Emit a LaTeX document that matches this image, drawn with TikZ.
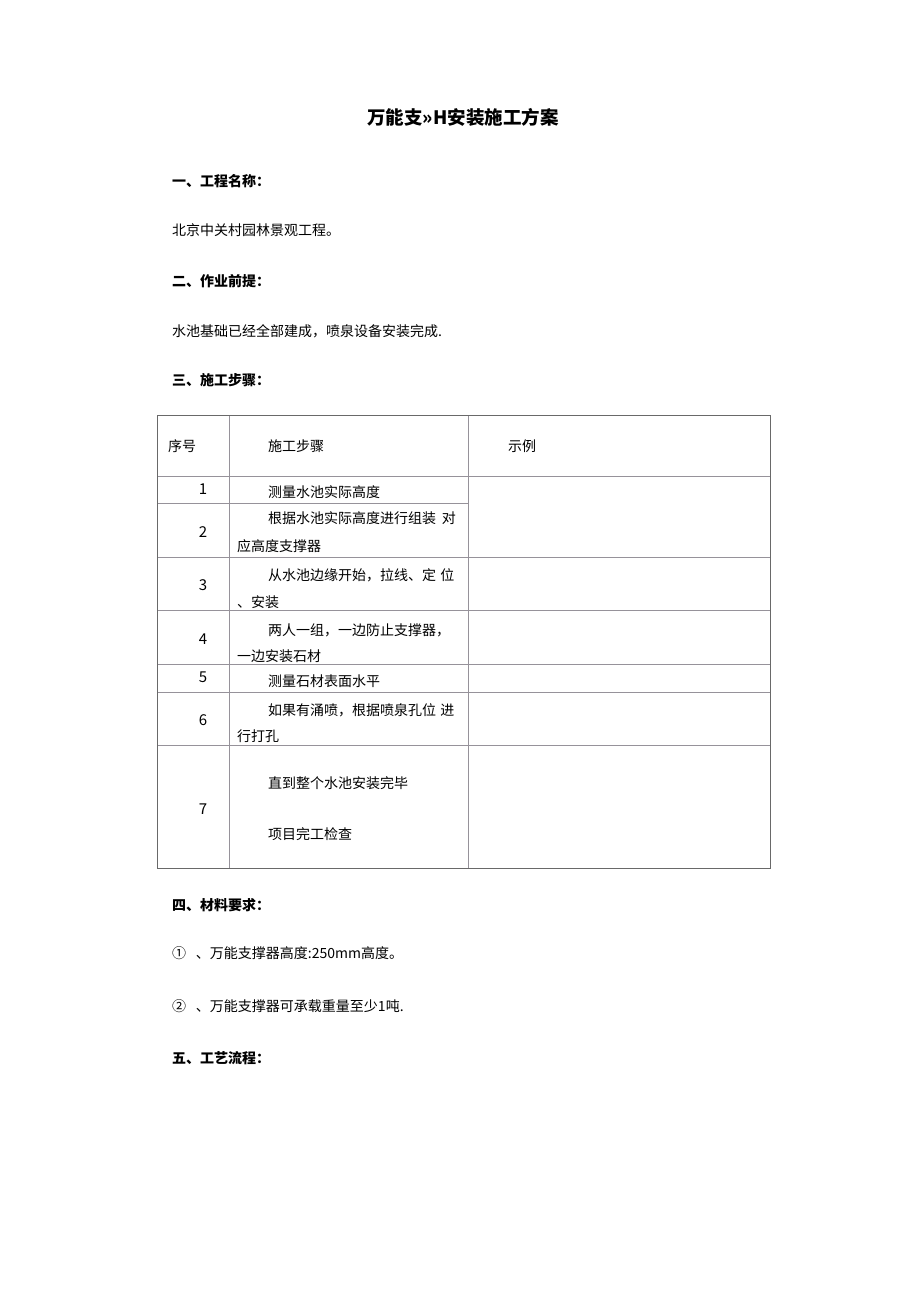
\documentclass[tikz,border=0pt]{standalone}
\usepackage{fontspec}
\setmainfont{Noto Sans CJK SC}
\definecolor{tablegray}{RGB}{150,146,154}
\definecolor{bordergray}{RGB}{105,105,105}
\begin{document}
\begin{tikzpicture}[x=1pt,y=-1pt,
  txt/.style={anchor=west,inner sep=0pt,yshift=-2pt,font=\fontsize{14}{16}\selectfont,text height=0.8em,text depth=0.04em},
  hd/.style={txt,font=\bfseries\fontsize{14}{16}\selectfont},
  num/.style={anchor=center,inner sep=0pt,yshift=-2pt,font=\fontsize{15}{17}\selectfont,text height=0.75em,text depth=0em},
  ttl/.style={anchor=center,inner sep=0pt,yshift=-2pt,font=\bfseries\fontsize{18.5}{20}\selectfont,text height=0.8em,text depth=0.04em},
  gridline/.style={draw=tablegray,line width=0.9pt},
  borderline/.style={draw=bordergray,line width=0.9pt}]
\fill[white] (0,0) rectangle (920,1302);
\useasboundingbox (0,0) rectangle (920,1302);

\node[ttl] (title) at (463,119) {万能支»H安装施工方案};
\node[hd] (h1) at (172,181) {一、工程名称：};
\node[txt] (t1) at (172,230) {北京中关村园林景观工程。};
\node[hd] (h2) at (172,281) {二、作业前提：};
\node[txt] (t2) at (172,331) {水池基础已经全部建成，喷泉设备安装完成.};
\node[hd] (h3) at (172,380) {三、施工步骤：};

% table grid
\coordinate (c0) at (157,415);
\coordinate (c1) at (770,868);
\draw[gridline] (229,415) -- (229,868);
\draw[gridline] (468,415) -- (468,868);
\foreach \yy in {476,557,610,664,692,745} {\draw[gridline] (157,\yy) -- (770,\yy);}
\draw[gridline] (157,503) -- (468,503);
\draw[borderline] (c0) rectangle (c1);

% header
\node[txt] (hs) at (168,446) {序号};
\node[txt] (hb) at (268,446) {施工步骤};
\node[txt] (he) at (508,446) {示例};

% rows
\node[num] (n1) at (203,489) {1};
\node[txt] (s1) at (268,492) {测量水池实际高度};
\node[num] (n2) at (203,532) {2};
\node[txt] (s2a) at (268,518) {根据水池实际高度进行组装\hspace{0.4em}对};
\node[txt] (s2b) at (237,546) {应高度支撑器};
\node[num] (n3) at (203,585) {3};
\node[txt] (s3a) at (268,575) {从水池边缘开始，拉线、定\hspace{0.3em}位};
\node[txt] (s3b) at (237,602) {、安装};
\node[num] (n4) at (203,639) {4};
\node[txt] (s4a) at (268,630) {两人一组，一边防止支撑器，};
\node[txt] (s4b) at (237,656) {一边安装石材};
\node[num] (n5) at (203,677) {5};
\node[txt] (s5) at (268,681) {测量石材表面水平};
\node[num] (n6) at (203,720) {6};
\node[txt] (s6a) at (268,710) {如果有涌喷，根据喷泉孔位\hspace{0.3em}进};
\node[txt] (s6b) at (237,736) {行打孔};
\node[num] (n7) at (203,809) {7};
\node[txt] (s7a) at (268,783) {直到整个水池安装完毕};
\node[txt] (s7b) at (268,834) {项目完工检查};

\node[hd] (h4) at (172,905) {四、材料要求：};
\node[txt] (m1) at (172,953) {①\hspace{0.7em}、万能支撑器高度:250mm高度。};
\node[txt] (m2) at (172,1006) {②\hspace{0.7em}、万能支撑器可承载重量至少1吨.};
\node[hd] (h5) at (172,1058) {五、工艺流程：};
\end{tikzpicture}
\end{document}
